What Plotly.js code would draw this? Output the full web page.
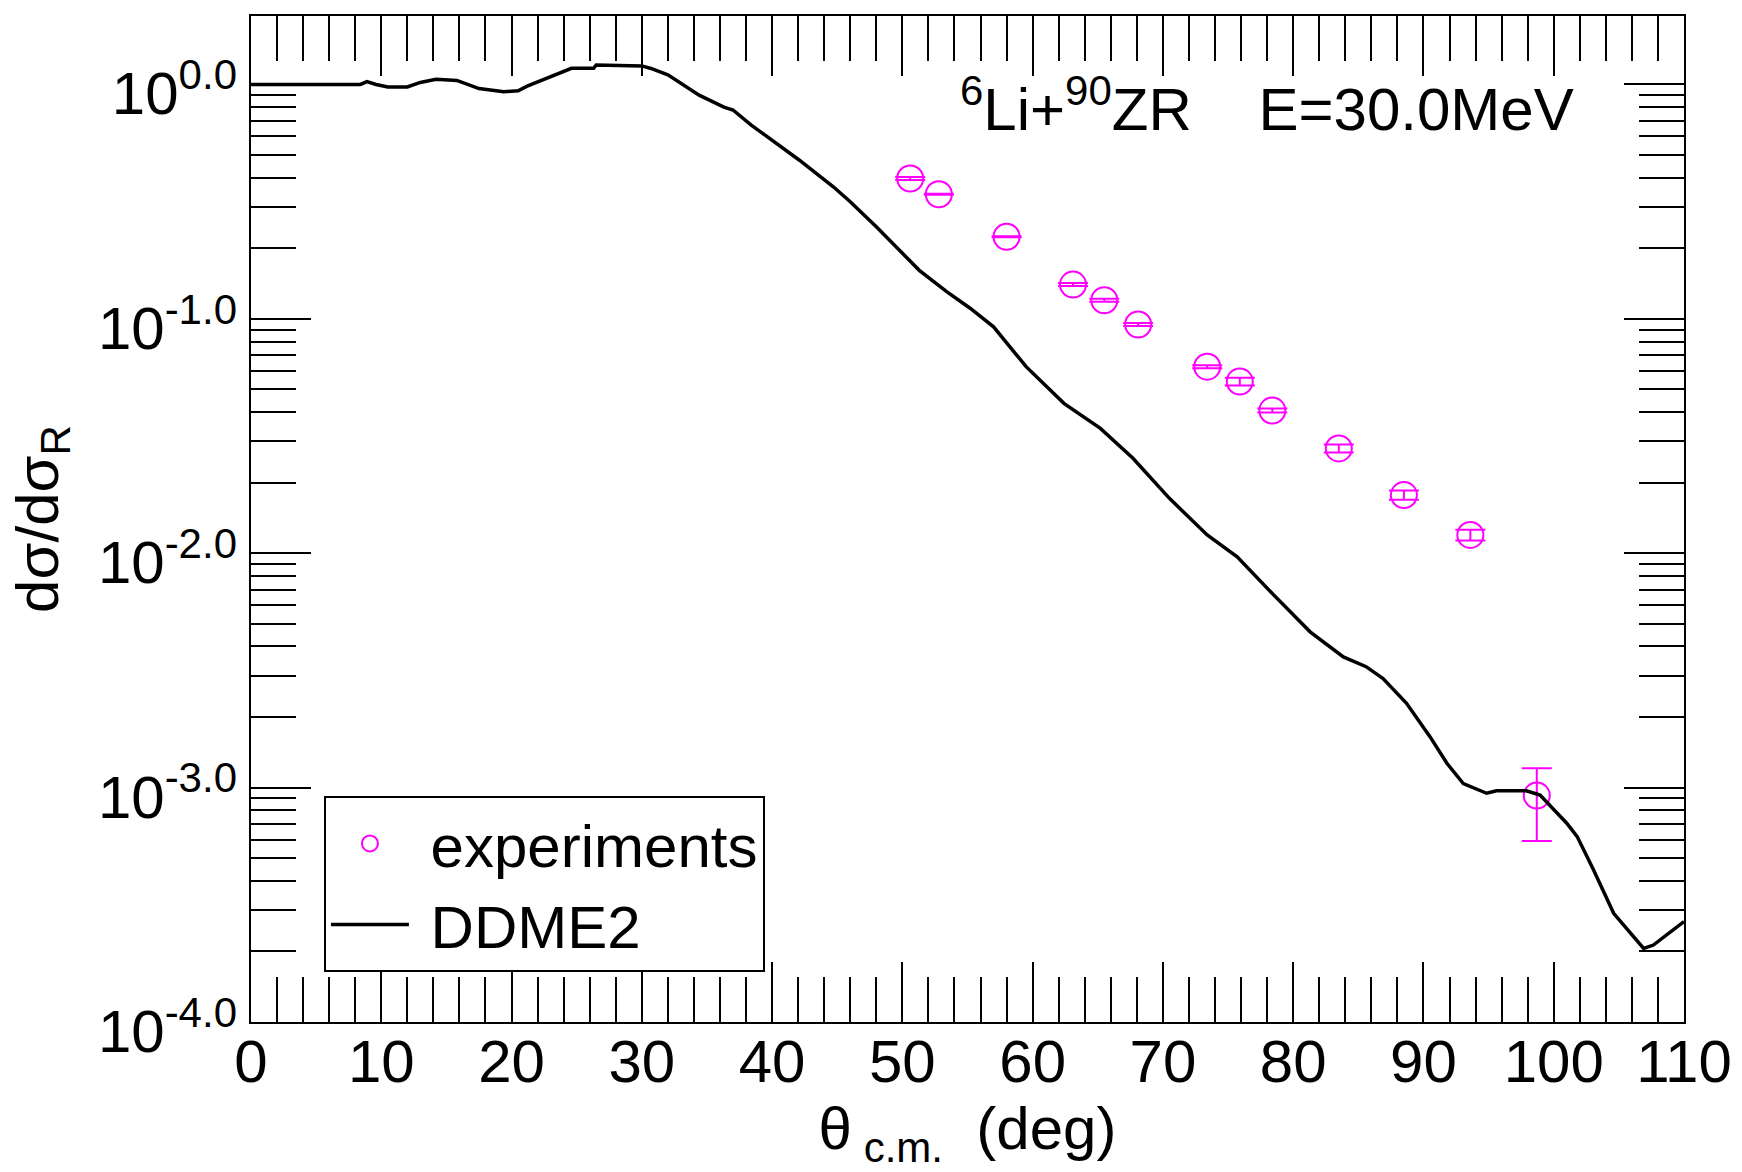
<!DOCTYPE html>
<html><head><meta charset="utf-8">
<script src="https://cdn.plot.ly/plotly-3.0.1.min.js"></script>
<style>html,body{margin:0;padding:0;background:#fff}#plot{width:1742px;height:1172px}</style>
</head><body><div id="plot"></div>
<script>
// experimental points
const expTheta = [50.6, 52.8, 58.0, 63.1, 65.5, 68.1, 73.4, 75.9, 78.4, 83.5, 88.5, 93.6, 98.7];
const expSigma = [0.397, 0.340, 0.224, 0.140, 0.120, 0.0946, 0.0625, 0.0540, 0.0406, 0.0280, 0.0177, 0.01197, 0.000925];
const expErrPlus = [0.006, 0.0017, 0.0011, 0.0021, 0.0018, 0.0014, 0.0009, 0.0021, 0.0008, 0.0011, 0.0008, 0.00063, 0.000283];
const expErrMinus = [0.006, 0.0017, 0.0011, 0.0021, 0.0018, 0.0014, 0.0009, 0.0021, 0.0008, 0.0011, 0.0008, 0.00063, 0.000333];

// DDME2 calculation
const ddmeTheta = [0, 4, 8.4, 8.9, 9.6, 10.5, 12.0, 13.0, 14.2, 15.8, 17.5, 19.4, 20.5, 21.2, 22.5, 24.0, 24.6, 26.3, 26.5, 30.0,
  30.7, 32.0, 34.4, 36.3, 37.0, 38.4, 39.8, 42.1, 44.7, 46.0, 48.0, 50.3, 51.3, 53.4, 55.2, 57.0, 59.5, 62.4, 65.2, 67.7,
  70.5, 73.4, 75.7, 78.5, 81.3, 83.85, 85.6, 86.9, 88.7, 90.5, 91.8, 93.06, 94.85, 95.6, 97.9, 98.95, 101.0, 101.8, 103.05,
  104.6, 105.9, 106.9, 107.65, 108.7, 110];
const ddmeSigma = [1.00, 1.00, 1.00, 1.028, 1.00, 0.975, 0.975, 1.02, 1.052, 1.04, 0.96, 0.931, 0.94, 0.984, 1.052, 1.143, 1.172, 1.172, 1.211, 1.20,
  1.17, 1.10, 0.90, 0.80, 0.778, 0.671, 0.589, 0.475, 0.366, 0.316, 0.247, 0.184, 0.161, 0.1306, 0.111, 0.0925, 0.0625, 0.0436, 0.0341, 0.0254,
  0.01714, 0.01197, 0.00966, 0.00664, 0.00462, 0.00361, 0.00328, 0.00292, 0.00229, 0.00165, 0.00127, 0.00104, 0.000946, 0.000970, 0.000970, 0.000929, 0.000705, 0.000618, 0.000446,
  0.000291, 0.000239, 0.000206, 0.000213, 0.000235, 0.000268];

const xTickVals = [0, 10, 20, 30, 40, 50, 60, 70, 80, 90, 100, 110];
const xTickText = ['0', '10', '20', '30', '40', '50', '60', '70', '80', '90', '100', '110'];
const yTickVals = [1e-4, 1e-3, 1e-2, 1e-1, 1];
const yTickText = ['10<sup>-4.0</sup>', '10<sup>-3.0</sup>', '10<sup>-2.0</sup>', '10<sup>-1.0</sup>', '10<sup>0.0</sup>'];

const yMinor = [];
for (const d of yTickVals) { for (let k = 2; k <= 9; k++) { const v = d * k; if (v < 1.9) yMinor.push(v); } }

const FONT = 'Liberation Sans, Arial, Helvetica, sans-serif';
const MAG = '#ff00ff';

const traces = [
  {
    x: expTheta, y: expSigma, type: 'scatter', mode: 'markers', name: '\u00a0experiments',
    marker: {symbol: 'circle-open', size: 26, color: MAG, line: {color: MAG, width: 2}},
    error_y: {type: 'data', symmetric: false, array: expErrPlus, arrayminus: expErrMinus, color: MAG, thickness: 2, width: 15},
    cliponaxis: false
  },
  {
    x: ddmeTheta, y: ddmeSigma, type: 'scatter', mode: 'lines', name: '\u00a0DDME2',
    line: {color: '#000', width: 3.5}
  }
];

const axisCommon = {
  showline: true, linecolor: '#000', linewidth: 2, mirror: 'ticks',
  ticks: 'inside', ticklen: 60, tickwidth: 2, tickcolor: '#000',
  showgrid: false, zeroline: false,
  tickfont: {family: FONT, size: 60, color: '#000'}
};

const layout = {
  width: 1742, height: 1172,
  margin: {l: 251, r: 58, t: 16, b: 150, pad: 0},
  paper_bgcolor: '#fff', plot_bgcolor: '#fff',
  showlegend: true,
  font: {family: FONT, color: '#000'},
  xaxis: Object.assign({}, axisCommon, {
    range: [0, 110], tickmode: 'array', tickvals: xTickVals, ticktext: xTickText,
    ticklabelstandoff: -14,
    minor: {dtick: 2, tick0: 0, ticks: 'inside', ticklen: 45, tickwidth: 2, tickcolor: '#000', showgrid: false},
    title: {text: 'θ<sub>\u00a0c.m.</sub>\u00a0\u00a0(deg)', font: {family: FONT, size: 60, color: '#000'}, standoff: 10}
  }),
  yaxis: Object.assign({}, axisCommon, {
    type: 'log', range: [-4, 0.292], tickmode: 'array', tickvals: yTickVals, ticktext: yTickText,
    ticklabelshift: 9,
    minor: {tickmode: 'array', tickvals: yMinor, ticks: 'inside', ticklen: 45, tickwidth: 2, tickcolor: '#000', showgrid: false},
    title: {text: 'dσ/dσ<sub>R</sub>', font: {family: FONT, size: 60, color: '#000'}, standoff: 20}
  }),
  legend: {
    x: 0.0509, y: 0.2247, xanchor: 'left', yanchor: 'top',
    bordercolor: '#000', borderwidth: 2, bgcolor: '#fff',
    font: {family: FONT, size: 60, color: '#000'},
    itemwidth: 78, tracegroupgap: 0
  },
  annotations: [{
    xref: 'paper', yref: 'paper', x: 0.4934, y: 0.912, xanchor: 'left', yanchor: 'middle',
    text: '<sup>6</sup>Li+<sup>90</sup>ZR\u00a0\u00a0\u00a0\u00a0E=30.0MeV', showarrow: false,
    font: {family: FONT, size: 60, color: '#000'}
  }]
};

Plotly.newPlot('plot', traces, layout, {staticPlot: true, displayModeBar: false});
</script>
</body></html>
